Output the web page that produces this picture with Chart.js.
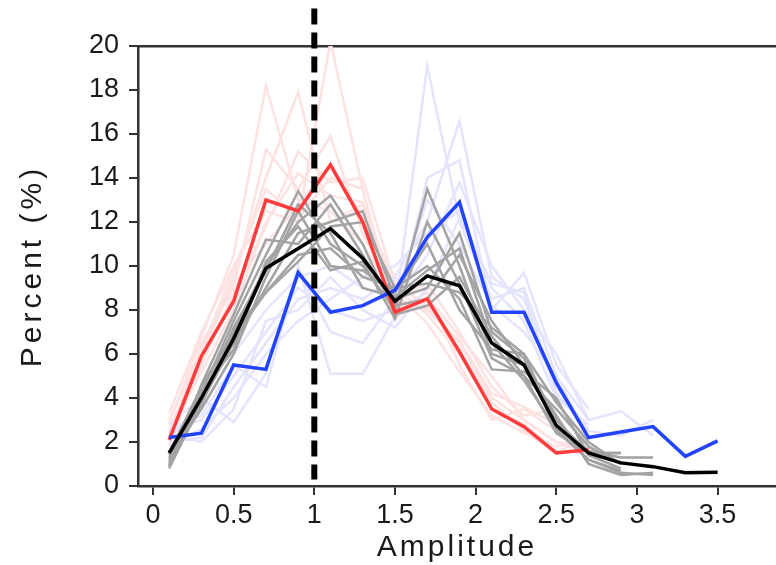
<!DOCTYPE html>
<html>
<head>
<meta charset="utf-8">
<script src="https://cdn.jsdelivr.net/npm/chart.js@4/dist/chart.umd.min.js"></script>
<style>
  body { margin: 0; background: #fff; }
</style>
</head>
<body>
<canvas id="c" width="776" height="565"></canvas>
<script>
// bin centres (Amplitude)
const bins = [0.1, 0.3, 0.5, 0.7, 0.9, 1.1, 1.3, 1.5, 1.7, 1.9, 2.1, 2.3, 2.5, 2.7, 2.9, 3.1, 3.3, 3.5];
const xTicks = [0, 0.5, 1, 1.5, 2, 2.5, 3, 3.5];

// highlighted series
const redLine = [2.1, 5.9, 8.4, 13.0, 12.5, 14.6, 12.0, 7.9, 8.5, 6.1, 3.5, 2.7, 1.5, 1.65];
const blueLine = [2.2, 2.4, 5.5, 5.3, 9.7, 7.9, 8.2, 8.9, 11.3, 12.9, 7.9, 7.9, 4.7, 2.2, 2.45, 2.7, 1.35, 2.05];
const blackLine = [1.5, 4.0, 6.7, 9.9, 10.8, 11.7, 10.35, 8.4, 9.55, 9.1, 6.5, 5.5, 2.75, 1.5, 1.05, 0.88, 0.6, 0.62];

// faint member lines
const lightRed = [
  [2.8, 6.8, 10.5, 18.2, 13.0, 12.5, 11.0, 8.5, 8.0, 6.5, 4.0, 3.0, 2.0, 1.8],
  [2.5, 6.0, 9.5, 14.0, 17.9, 12.0, 12.8, 9.0, 7.8, 6.0, 3.5, 2.8, 1.6, 1.5],
  [3.3, 7.0, 10.0, 12.5, 12.0, 20.2, 13.5, 8.0, 8.8, 5.5, 3.0, 3.5, 2.5, 1.7],
  [2.2, 6.5, 9.0, 15.3, 13.5, 15.9, 11.5, 8.6, 9.2, 7.0, 4.5, 3.2, 3.5, 2.2],
  [2.0, 5.5, 8.8, 11.8, 15.2, 13.8, 14.0, 9.2, 8.2, 6.2, 3.8, 2.5, 1.5, 2.3],
  [3.0, 6.2, 9.8, 13.5, 12.2, 14.0, 13.5, 7.6, 8.6, 6.8, 5.0, 3.0, 2.0, 1.5],
  [2.4, 5.2, 8.0, 12.0, 14.2, 13.2, 12.9, 8.8, 7.4, 5.2, 3.2, 2.4, 1.8, 2.0],
  [1.8, 6.0, 9.2, 11.0, 12.8, 14.6, 12.2, 9.5, 8.0, 6.6, 4.2, 3.6, 2.8, 1.6]
];
const lightBlue = [
  [2.5, 3.0, 5.0, 7.0, 9.0, 8.0, 7.5, 8.0, 19.1, 12.0, 8.5, 9.0, 5.0, 3.0, 3.4, 2.3],
  [2.0, 2.2, 4.5, 6.5, 8.5, 9.0, 8.5, 9.5, 12.0, 16.6, 9.5, 8.5, 4.5, 2.5, 2.3, 3.0],
  [2.8, 4.0, 2.9, 5.1, 10.0, 5.1, 5.1, 7.7, 14.0, 14.8, 8.0, 9.7, 5.5, 3.5],
  [2.2, 3.5, 6.0, 8.0, 9.5, 10.0, 9.0, 8.5, 10.5, 13.8, 10.0, 8.0, 6.0, 3.0],
  [1.8, 2.6, 4.0, 6.0, 7.5, 8.5, 9.5, 10.0, 11.5, 12.5, 9.0, 7.5, 4.0, 2.8],
  [2.6, 3.2, 5.5, 4.5, 9.8, 7.0, 6.5, 8.5, 13.0, 11.0, 8.2, 7.0, 5.0, 2.2],
  [2.3, 2.0, 3.5, 7.5, 8.0, 9.5, 8.0, 7.2, 9.0, 12.2, 9.2, 8.8, 4.2, 2.6]
];
const grayLines = [
  [1.2, 4.2, 7.5, 10.5, 13.4, 11.0, 10.0, 8.0, 13.5, 10.0, 6.0, 5.5, 3.0, 1.5, 1.5],
  [0.8, 3.8, 6.5, 9.0, 11.5, 12.0, 12.5, 8.5, 9.0, 11.5, 7.0, 5.8, 2.5, 1.2, 0.6, 0.5],
  [1.5, 4.5, 7.0, 10.0, 12.0, 13.2, 11.0, 7.8, 8.2, 9.5, 6.8, 5.0, 3.5, 1.8, 1.0],
  [1.0, 4.0, 6.8, 8.8, 10.5, 10.8, 9.5, 9.0, 10.0, 8.5, 5.3, 5.2, 4.0, 1.4, 0.8],
  [1.3, 3.5, 6.0, 9.5, 12.5, 10.0, 9.8, 8.8, 11.0, 8.0, 6.2, 6.0, 2.8, 1.6, 1.3, 1.3],
  [0.9, 4.6, 7.8, 11.2, 11.0, 12.8, 10.5, 8.2, 8.5, 10.5, 7.5, 5.5, 3.2, 1.0, 0.5, 0.6],
  [1.1, 3.9, 7.2, 9.8, 12.8, 11.5, 9.0, 8.6, 9.8, 10.8, 6.5, 4.8, 2.6, 1.2, 0.7],
  [1.4, 4.3, 6.2, 10.2, 11.8, 9.8, 10.2, 7.6, 12.0, 9.2, 5.8, 5.0, 2.4, 1.5, 1.5],
  [0.9, 3.7, 7.0, 8.8, 10.2, 11.8, 12.0, 9.0, 9.2, 8.8, 7.2, 6.0, 3.8, 2.0, 1.0]
];

// vertical reference line at Amplitude = 1
const refX = 1;
const refYRange = [21.7, 0.3];

const pts = vals => vals.map((v, i) => ({ x: bins[i], y: v }));

function line(vals, color, width, order) {
  return {
    data: pts(vals),
    borderColor: color,
    borderWidth: width,
    pointRadius: 0,
    tension: 0,
    fill: false,
    order: order
  };
}

const datasets = [];
lightRed.forEach(v => datasets.push(line(v, '#fde2e2', 2.5, 6)));
lightBlue.forEach(v => datasets.push(line(v, '#e4e4fd', 2.5, 5)));
grayLines.forEach(v => datasets.push(line(v, '#a3a3a3', 2.5, 4)));
datasets.push(line(redLine, '#ff3b3b', 3.5, 3));
datasets.push(line(blueLine, '#2244ff', 3.5, 2));
datasets.push(line(blackLine, '#000000', 3.5, 1));
datasets.push({
  data: refYRange.map(y => ({ x: refX, y: y })),
  borderColor: '#000',
  borderWidth: 6,
  borderDash: [16, 8],
  pointRadius: 0,
  clip: false,
  order: 0
});

const axisColor = '#333';
const tickFont = { family: '"Liberation Sans", Arial, sans-serif', size: 27 };

// axis titles drawn with a little letter spacing, like the original font
const titles = {
  id: 'titles',
  afterDraw(chart) {
    const ctx = chart.ctx;
    const a = chart.chartArea;
    ctx.save();
    ctx.fillStyle = '#1a1a1a';
    ctx.font = '30px "Liberation Sans", Arial, sans-serif';
    ctx.textAlign = 'center';
    ctx.textBaseline = 'middle';
    ctx.letterSpacing = '3px';
    ctx.fillText('Amplitude', (a.left + a.right) / 2, 548);
    ctx.letterSpacing = '4px';
    ctx.translate(33, (a.top + a.bottom) / 2);
    ctx.rotate(-Math.PI / 2);
    ctx.fillText('Percent (%)', 0, 0);
    ctx.restore();
  }
};

new Chart(document.getElementById('c'), {
  type: 'line',
  data: { datasets: datasets },
  options: {
    responsive: false,
    animation: false,
    layout: { padding: { top: 46, left: 0, right: 0, bottom: 0 } },
    plugins: {
      legend: { display: false },
      tooltip: { enabled: false }
    },
    scales: {
      x: {
        type: 'linear',
        min: -0.093,
        max: 3.862,
        afterBuildTicks: s => { s.ticks = xTicks.map(v => ({ value: v })); },
        afterFit: s => { s.height = 79; },
        grid: { drawOnChartArea: false, tickLength: 9, color: axisColor, lineWidth: 2 },
        border: { color: axisColor, width: 2.5 },
        ticks: {
          font: tickFont, color: '#1a1a1a', padding: 4,
          maxRotation: 0, autoSkip: false,
          callback: v => String(v)
        }
      },
      xTop: {
        type: 'linear',
        position: 'top',
        min: -0.093,
        max: 3.862,
        afterFit: s => { s.height = 0; },
        grid: { drawOnChartArea: false, drawTicks: false },
        border: { color: axisColor, width: 2.5 },
        ticks: { display: false }
      },
      y: {
        min: 0,
        max: 20,
        afterFit: s => { s.width = 138; },
        grid: { drawOnChartArea: false, tickLength: 9, color: axisColor, lineWidth: 2 },
        border: { color: axisColor, width: 2.5 },
        ticks: { stepSize: 2, font: tickFont, color: '#1a1a1a', padding: 10 }
      }
    }
  },
  plugins: [titles]
});
</script>
</body>
</html>
